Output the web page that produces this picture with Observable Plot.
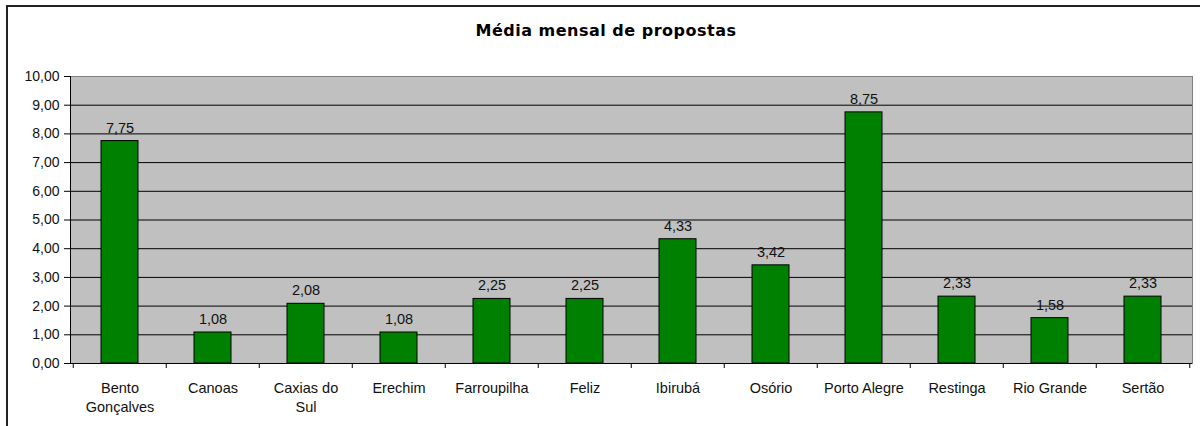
<!DOCTYPE html>
<html><head><meta charset="utf-8">
<script src="https://cdn.jsdelivr.net/npm/d3@7"></script>
<script src="https://cdn.jsdelivr.net/npm/@observablehq/plot@0.6"></script>
<style>
body{margin:0;background:#fff;}
#wrap{position:relative;width:1200px;height:426px;overflow:hidden;background:#fff;}
#frame{position:absolute;left:6px;top:5px;width:1300px;height:600px;border:2px solid #222;box-sizing:border-box;}
#title{position:absolute;left:0;width:1212px;top:21px;line-height:20px;text-align:center;font-family:"DejaVu Sans";font-weight:bold;font-size:16px;letter-spacing:0.5px;color:#000;}
#chart{position:absolute;left:0;top:60px;}
</style>
</head><body>
<div id="wrap"><div id="frame"></div><div id="title">Média mensal de propostas</div><div id="chart"></div></div>
<script>
const categories = ["Bento\nGonçalves","Canoas","Caxias do\nSul","Erechim","Farroupilha","Feliz","Ibirubá","Osório","Porto Alegre","Restinga","Rio Grande","Sertão"];
const values = [7.75,1.08,2.08,1.08,2.25,2.25,4.33,3.42,8.75,2.33,1.58,2.33];
const yTicks = [0,1,2,3,4,5,6,7,8,9,10];

const data = categories.map((c,i)=>({name:c,value:values[i]}));
const fmt = d => d.toFixed(2).replace(".", ",");
const W = 1200, H = 366, mL = 70, mR = 8, mT = 16, mB = 63;
const step = (W - mL - mR) / categories.length;

const chart = Plot.plot({
  width: W, height: H,
  marginLeft: mL, marginRight: mR, marginTop: mT, marginBottom: mB,
  style: {fontFamily: '"Liberation Sans", Arial, sans-serif', fontSize: "14px", color: "#000", background: "transparent"},
  x: {type: "band", domain: categories, paddingInner: 0.6, paddingOuter: 0.3, axis: null, label: null},
  y: {domain: [0,10], axis: null, label: null},
  marks: [
    Plot.frame({fill: "#c0c0c0", stroke: "#808080"}),
    Plot.gridY(yTicks.filter(t => t > 0 && t < 10), {stroke: "#000", strokeOpacity: 1}),
    Plot.barY(data, {x: "name", y: "value", fill: "#008000", stroke: "#000", strokeWidth: 1}),
    Plot.text(data, {x: "name", y: "value", text: d => fmt(d.value), lineAnchor: "bottom", dy: -8.5, fontSize: 14.5, fill: "#111"}),
    Plot.ruleY([0], {stroke: "#000"}),
    Plot.frame({anchor: "left", stroke: "#000"}),
    Plot.axisY(yTicks, {anchor: "left", label: null, tickSize: 6, tickPadding: 5, tickFormat: fmt, fontSize: 14, stroke: "#000", fill: "#111"}),
    Plot.axisX({anchor: "bottom", label: null, tickSize: 0, tickPadding: 16, lineHeight: 1.33, fontSize: 14.5, fill: "#111"}),
    Plot.axisX(categories, {anchor: "bottom", label: null, tickSize: 5, tickFormat: () => "", dx: -step/2, stroke: "#000"}),
    Plot.axisX([categories[categories.length-1]], {anchor: "bottom", label: null, tickSize: 5, tickFormat: () => "", dx: step/2, stroke: "#000"})
  ]
});
document.getElementById("chart").appendChild(chart);
</script>
</body></html>
